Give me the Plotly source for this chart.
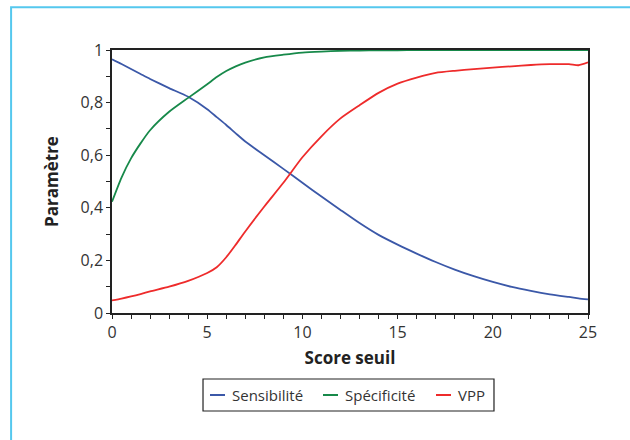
import plotly.graph_objects as go

score = [0, 0.5, 1, 1.5, 2, 3, 4, 5, 5.5, 6, 6.5, 7, 8, 9, 10, 11, 12, 13, 14, 15, 16, 17, 18, 19, 20, 21, 22, 23, 24, 24.5, 25]
sensibilite = [0.965, 0.947, 0.928, 0.909, 0.89, 0.855, 0.822, 0.775, 0.745, 0.715, 0.683, 0.652, 0.600, 0.548, 0.495, 0.443,
               0.392, 0.342, 0.297, 0.260, 0.226, 0.194, 0.165, 0.140, 0.118, 0.099, 0.084, 0.071, 0.061, 0.056, 0.052]
specificite = [0.423, 0.515, 0.588, 0.645, 0.695, 0.765, 0.818, 0.87, 0.897, 0.92, 0.938, 0.952, 0.972, 0.982, 0.99, 0.994,
               0.997, 0.998, 0.999, 0.999, 1.0, 1.0, 1.0, 1.0, 1.0, 1.0, 1.0, 1.0, 1.0, 1.0, 1.0]
vpp = [0.048, 0.055, 0.063, 0.072, 0.082, 0.10, 0.122, 0.152, 0.174, 0.212, 0.26, 0.31, 0.405, 0.495, 0.592, 0.672,
       0.74, 0.79, 0.837, 0.872, 0.895, 0.913, 0.921, 0.927, 0.933, 0.938, 0.943, 0.946, 0.946, 0.942, 0.953]

series_names = ["Sensibilité", "Spécificité", "VPP"]
series_colors = ["#3B58A8", "#17894A", "#EE2B2B"]
series_values = [sensibilite, specificite, vpp]

y_tickvals = [0, 0.2, 0.4, 0.6, 0.8, 1]
y_ticktext = ["0", "0,2", "0,4", "0,6", "0,8", "1"]

FONT = "Open Sans"
TXT = "#333333"

fig = go.Figure()
for name, color, vals in zip(series_names, series_colors, series_values):
    fig.add_trace(go.Scatter(x=score, y=vals, mode="lines", name=name,
                             line=dict(color=color, width=1.8, shape="spline", smoothing=0.6),
                             showlegend=False))

# manual legend (box, line samples, labels) in paper coordinates
shapes = [
    dict(type="rect", xref="paper", yref="paper", x0=-0.212, x1=1.3, y0=-1.0, y1=1.163,
         line=dict(color="#55C8EE", width=2), fillcolor="rgba(0,0,0,0)", layer="below"),
    dict(type="rect", xref="paper", yref="paper", x0=0.1912, x1=0.8025, y0=-0.3726, y1=-0.2510,
         line=dict(color="#222222", width=1.2), fillcolor="white"),
]
annotations = []
sample_x0 = [0.2059, 0.4433, 0.6807]
for name, color, sx in zip(series_names, series_colors, sample_x0):
    shapes.append(dict(type="line", xref="paper", yref="paper", x0=sx, x1=sx + 0.0315,
                       y0=-0.3118, y1=-0.3118, line=dict(color=color, width=2)))
    annotations.append(dict(xref="paper", yref="paper", x=sx + 0.042, y=-0.3118, text=name,
                            showarrow=False, xanchor="left", yanchor="middle",
                            font=dict(family=FONT, size=15, color=TXT)))

fig.update_layout(
    width=630, height=440,
    margin=dict(l=112, r=42, t=50, b=127),
    paper_bgcolor="white", plot_bgcolor="white",
    font=dict(family=FONT, size=16, color=TXT),
    showlegend=False,
    shapes=shapes,
    annotations=annotations,
)

fig.update_xaxes(
    range=[0, 25], showgrid=False, zeroline=False,
    showline=True, linecolor="#222222", linewidth=1.5, mirror=True,
    ticks="outside", ticklen=4, tickwidth=1, tickcolor="#222222",
    tickmode="linear", tick0=0, dtick=5,
    minor=dict(ticks="outside", ticklen=4, tickwidth=1, tickcolor="#222222", dtick=1, tick0=0, showgrid=False),
    tickfont=dict(family=FONT, size=16, color=TXT),
    title=dict(text="<b>Score seuil</b>", font=dict(family=FONT, size=17, color="#222222"), standoff=10),
)
fig.update_yaxes(
    range=[0, 1], showgrid=False, zeroline=False,
    showline=True, linecolor="#222222", linewidth=1.5, mirror=True,
    ticks="outside", ticklen=4, tickwidth=1, tickcolor="#222222",
    tickmode="array", tickvals=y_tickvals, ticktext=y_ticktext,
    minor=dict(ticks="outside", ticklen=4, tickwidth=1, tickcolor="#222222", dtick=0.1, tick0=0, showgrid=False),
    tickfont=dict(family=FONT, size=16, color=TXT),
    title=dict(text="<b>Paramètre</b>", font=dict(family=FONT, size=17, color="#222222"), standoff=18),
)

fig.write_html("out.html", config={"displayModeBar": False},
               post_script="document.body.style.margin='0';document.body.style.overflow='hidden';")
